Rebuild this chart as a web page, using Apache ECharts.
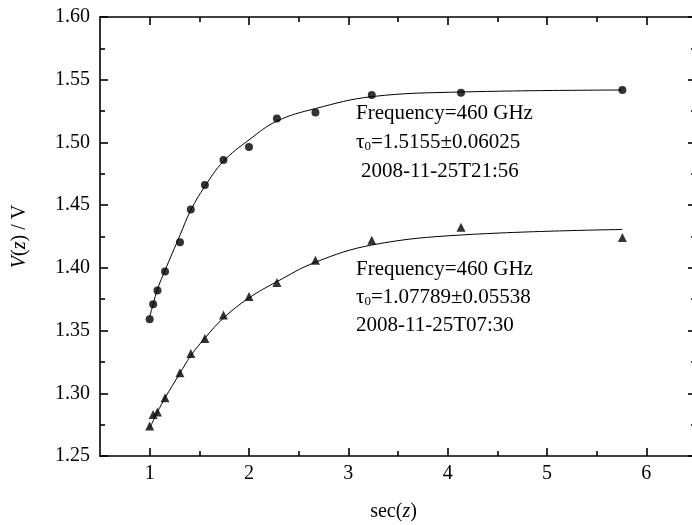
<!DOCTYPE html>
<html>
<head>
<meta charset="utf-8">
<script src="https://cdn.jsdelivr.net/npm/echarts@6/dist/echarts.min.js"></script>
<style>html,body{margin:0;padding:0;background:#fff;}#c{width:692px;height:525px;}</style>
</head>
<body>
<div id="c"></div>
<script>
// sec(z) values of the measurements
const secZ = [1.0, 1.035, 1.0785, 1.1547, 1.305, 1.414, 1.556, 1.743, 2.0, 2.281, 2.669, 3.236, 4.134, 5.759];
// 2008-11-25T21:56 (circles) measured and fitted
const vEvening   = [1.359, 1.371, 1.382, 1.397, 1.4205, 1.4465, 1.466, 1.486, 1.4964, 1.519, 1.5238, 1.5379, 1.5397, 1.5418];
const fitEvening = [1.361, 1.371, 1.383, 1.398, 1.426, 1.446, 1.465, 1.485, 1.502, 1.517, 1.527, 1.5365, 1.5402, 1.5418];
// 2008-11-25T07:30 (triangles) measured and fitted
const vMorning   = [1.274, 1.283, 1.285, 1.2964, 1.3163, 1.3318, 1.3437, 1.3625, 1.3772, 1.3884, 1.4061, 1.4221, 1.4324, 1.4242];
const fitMorning = [1.272, 1.278, 1.285, 1.2963, 1.316, 1.330, 1.344, 1.360, 1.376, 1.389, 1.4045, 1.4182, 1.4262, 1.4306];
// tick values
const xMajor = [1, 2, 3, 4, 5, 6];
const xMinor = [1.5, 2.5, 3.5, 4.5, 5.5, 6.5];
// annotation texts
const noteEvening = ['Frequency=460 GHz', '{a|τ}{s|0}{a|=1.5155±0.06025}', '2008-11-25T21:56'];
const noteMorning = ['Frequency=460 GHz', '{a|τ}{s|0}{a|=1.07789±0.05538}', '2008-11-25T07:30'];

const FONT = 'Liberation Serif';
const pairs = (xs, ys) => xs.map((x, i) => [x, ys[i]]);

const chart = echarts.init(document.getElementById('c'), null, {renderer: 'canvas'});

const lineStyle = {color: '#000', width: 1.6};
function xAx(pos, ticks, len, showLine, showLabel) {
  return {
    type: 'value', position: pos, min: 0.5, max: 6.5,
    axisLine: {show: showLine, onZero: false, lineStyle},
    axisTick: {show: true, inside: true, length: len, customValues: ticks, lineStyle},
    axisLabel: showLabel ? {show: true, customValues: ticks, margin: 8, color: '#000', fontFamily: FONT, fontSize: 20} : {show: false},
    splitLine: {show: false},
    name: showLabel ? 'sec({i|z})' : '',
    nameLocation: 'middle', nameGap: 46,
    nameTextStyle: {color: '#000', fontFamily: FONT, fontSize: 20, padding: [0, 9, 0, 0],
      rich: {i: {fontStyle: 'italic', fontFamily: FONT, fontSize: 20, color: '#000'}}}
  };
}
function yAx(pos, showLabel) {
  return {
    type: 'value', position: pos, min: 1.25, max: 1.60, interval: 0.05,
    axisLine: {show: true, onZero: false, lineStyle},
    axisTick: {show: true, inside: true, length: 8, lineStyle},
    minorTick: {show: true, splitNumber: 2, length: 5, lineStyle},
    axisLabel: showLabel ? {show: true, margin: 10, color: '#000', fontFamily: FONT, fontSize: 20,
      formatter: v => v.toFixed(2)} : {show: false},
    splitLine: {show: false}, minorSplitLine: {show: false},
    name: showLabel ? '{i|V}({i|z}) / V' : '',
    nameLocation: 'middle', nameGap: 70,
    nameTextStyle: {color: '#000', fontFamily: FONT, fontSize: 20,
      rich: {i: {fontStyle: 'italic', fontFamily: FONT, fontSize: 20, color: '#000'}}}
  };
}

function noteTexts(lines, left, top, step, thirdIndent) {
  return lines.map((t, i) => ({
    type: 'text', left: left + (i === 2 ? thirdIndent : 0), top: top + i * step,
    style: {
      text: t, fill: '#000', fontFamily: FONT, fontSize: 21,
      rich: {
        a: {fontFamily: FONT, fontSize: 21, fill: '#000'},
        s: {fontFamily: FONT, fontSize: 13, fill: '#000', padding: [9, 0, 0, 0]}
      }
    }
  }));
}

chart.setOption({
  animation: false,
  backgroundColor: '#fff',
  grid: {left: 100, top: 17, right: -4, bottom: 69, containLabel: false, outerBoundsMode: 'none'},
  xAxis: [
    xAx('bottom', xMajor, 8, true, true),
    xAx('top', xMajor, 8, true, false),
    xAx('bottom', xMinor, 5, false, false),
    xAx('top', xMinor, 5, false, false)
  ],
  yAxis: [yAx('left', true), yAx('right', false)],
  series: [
    {type: 'line', data: pairs(secZ, fitEvening), smooth: 0.4, showSymbol: false, symbol: 'none',
      lineStyle: {color: '#000', width: 1}, z: 2},
    {type: 'scatter', data: pairs(secZ, vEvening), symbol: 'circle', symbolSize: 8,
      itemStyle: {color: '#000'}, z: 3},
    {type: 'line', data: pairs(secZ, fitMorning), smooth: 0.4, showSymbol: false, symbol: 'none',
      lineStyle: {color: '#000', width: 1}, z: 2},
    {type: 'scatter', data: pairs(secZ, vMorning), symbol: 'triangle', symbolSize: 9,
      itemStyle: {color: '#000'}, z: 3}
  ],
  graphic: [].concat(
    noteTexts(noteEvening, 356, 103, 29, 5),
    noteTexts(noteMorning, 356, 259, 28, 0)
  )
});
</script>
</body>
</html>
